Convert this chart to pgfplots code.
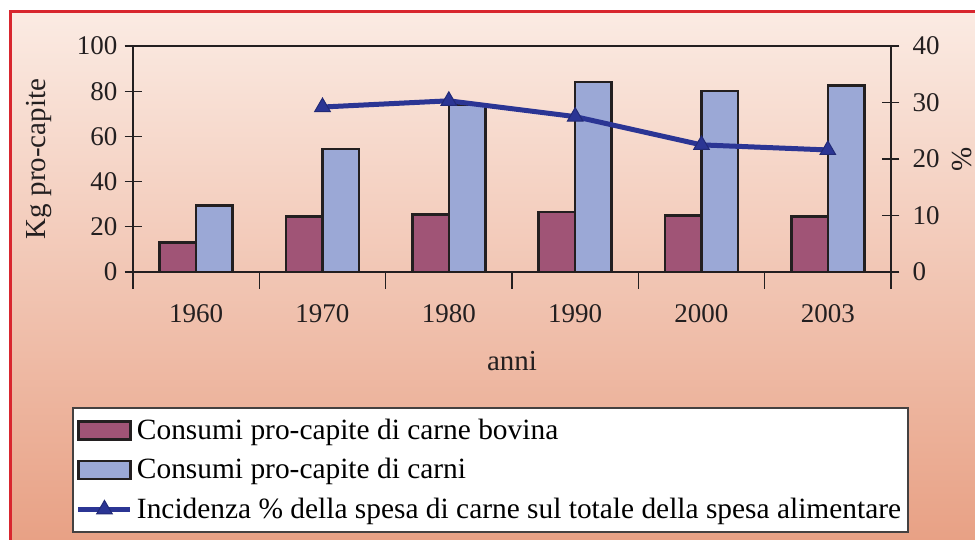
\documentclass[border=0pt]{standalone}
\usepackage{fontspec}
\setmainfont{Liberation Serif}
\usepackage{pgfplots}
\usepackage{pgfplotstable}
\pgfplotsset{compat=1.18}
\definecolor{bgtop}{HTML}{FBEBE3}
\definecolor{bgbot}{HTML}{E8A185}
\definecolor{borderred}{HTML}{D8262E}
\definecolor{bovina}{HTML}{A05476}
\definecolor{carni}{HTML}{9BA8D6}
\definecolor{linecol}{HTML}{2B3594}
\definecolor{axcol}{HTML}{231F20}

\pgfplotstableread{
x bovina carni
0 13 29.5
1 24.5 54.5
2 25.5 74
3 26.5 84
4 25 80
5 24.5 82.5
}\bars
\pgfplotstableread{
x inc
1 29.2
2 30.3
3 27.5
4 22.5
5 21.6
}\incid

\pgfplotsset{
  common/.style={
    scale only axis, width=379pt, height=113pt,
    at={(66.5pt,134pt)}, anchor=south west,
    xmin=-0.5, xmax=5.5,
    axis line style={draw=axcol, line width=0.6pt},
    every tick/.style={draw=axcol, line width=0.6pt},
    major tick length=8.5pt, tick align=center,
    /pgf/number format/assume math mode=true,
    tick label style={font=\fontsize{13.5}{16}\selectfont, text=axcol},
    label style={font=\fontsize{14.5}{17}\selectfont, text=axcol},
  },
  barimg/.style={legend image code/.code={\draw[##1] (0pt,-4.5pt) rectangle (26pt,4.5pt);}},
  lineimg/.style={legend image code/.code={\draw[mark repeat=2,mark phase=2,##1] plot coordinates {(0pt,0pt) (13pt,0pt) (26pt,0pt)};}},
}

\begin{document}
\begin{tikzpicture}[x=0.5pt,y=0.5pt]
\useasboundingbox (0,0) rectangle (975,540);
\fill[white] (0,0) rectangle (975,540);
\shade[top color=bgtop,bottom color=bgbot] (10,0) rectangle (975,529);
\draw[borderred,line width=1.5pt] (10.5,0) -- (10.5,528.5) -- (975,528.5);

\begin{axis}[common,
  ymin=0, ymax=100,
  ytick={0,20,...,100}, ytick pos=left,
  xtick={-0.5,0.5,...,5.5}, xticklabels={}, xtick pos=left,
  extra x ticks={0,1,2,3,4,5},
  extra x tick labels={1960,1970,1980,1990,2000,2003},
  extra x tick style={major tick length=0pt, tick label style={yshift=-12.5pt}},
  ylabel={Kg pro-capite},
  ylabel shift=5.5pt,
  xlabel={anni},
  xlabel style={yshift=1pt},
  ybar=0pt, bar width=0.289,
]
\addplot[fill=bovina, draw=axcol, line width=1.2pt] table[x=x,y=bovina]{\bars};
\addplot[fill=carni, draw=axcol, line width=1.2pt] table[x=x,y=carni]{\bars};
\end{axis}

\begin{axis}[common,
  ymin=0, ymax=40,
  axis y line*=right, axis x line=none,
  ytick={0,10,...,40},
  yticklabel style={xshift=3pt},
  ylabel={\%},
  ylabel shift=-0.5pt,
  legend style={at={(axis description cs:-0.0805,-0.597)}, anchor=north west,
    draw=axcol!85, line width=1pt, fill=white,
    font=\fontsize{14.7}{17}\selectfont,
    nodes={inner ysep=3pt, inner xsep=2pt},
    row sep=2pt, inner xsep=1.5pt, inner ysep=2.5pt},
  legend cell align=left,
]
\addlegendimage{barimg, fill=bovina, draw=axcol, line width=1.2pt}
\addlegendentry{Consumi pro-capite di carne bovina}
\addlegendimage{barimg, fill=carni, draw=axcol, line width=1.2pt}
\addlegendentry{Consumi pro-capite di carni}
\addplot[lineimg, color=linecol, line width=2.5pt, mark=triangle*, mark size=4.5pt,
  mark options={fill=linecol, draw=linecol!80!black, line width=0.5pt}] table[x=x,y=inc]{\incid};
\addlegendentry{Incidenza \% della spesa di carne sul totale della spesa alimentare}
\end{axis}
\end{tikzpicture}
\end{document}
